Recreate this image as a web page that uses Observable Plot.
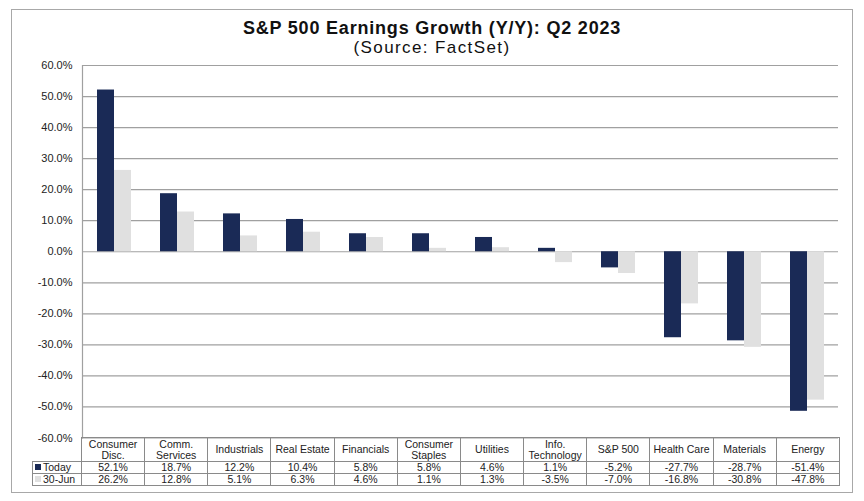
<!DOCTYPE html>
<html><head><meta charset="utf-8">
<script src="https://cdn.jsdelivr.net/npm/d3@7"></script>
<script src="https://cdn.jsdelivr.net/npm/@observablehq/plot@0.6"></script>
<style>
body{margin:0;background:#fff;font-family:Arial,"Liberation Sans",sans-serif;}
#wrap{position:relative;width:864px;height:501px;overflow:hidden;background:#fff;}
#chart{position:absolute;left:0;top:0;}
#box{position:absolute;left:11px;top:9px;width:842px;height:484px;border:1.5px solid #a8a8a8;box-sizing:border-box;}
#title{position:absolute;left:12px;width:840px;top:18px;text-align:center;font-weight:bold;font-size:18px;letter-spacing:0.8px;color:#111;}
#subtitle{position:absolute;left:12px;width:840px;top:38px;text-align:center;font-size:17px;letter-spacing:1.4px;color:#111;}
#tbl{position:absolute;left:32px;top:437px;border-collapse:collapse;table-layout:fixed;font-size:10.5px;color:#222;width:807px;}
#tbl td{border:1px solid #8a8a8a;text-align:center;padding:0;line-height:10.5px;white-space:nowrap;overflow:hidden;}
#tbl tr.hdr td{height:23px;}
#tbl tr.val td{height:11px;}
#tbl td.lab{text-align:left;padding-left:2px;}
.key{display:inline-block;width:6px;height:6px;margin-right:2px;vertical-align:1px;}
</style>
</head><body>
<div id="wrap">
  <div id="chart"></div>
  <div id="box"></div>
  <div id="title"></div>
  <div id="subtitle"></div>
  <table id="tbl"></table>
</div>
<script>
const titleText = "S&P 500 Earnings Growth (Y/Y): Q2 2023";
const subtitleText = "(Source: FactSet)";
const categories = ["Consumer\nDisc.", "Comm.\nServices", "Industrials", "Real Estate", "Financials", "Consumer\nStaples", "Utilities", "Info.\nTechnology", "S&P 500", "Health Care", "Materials", "Energy"];
const seriesNames = ["Today", "30-Jun"];
const today = [52.1, 18.7, 12.2, 10.4, 5.8, 5.8, 4.6, 1.1, -5.2, -27.7, -28.7, -51.4];
const jun30 = [26.2, 12.8, 5.1, 6.3, 4.6, 1.1, 1.3, -3.5, -7.0, -16.8, -30.8, -47.8];
const seriesColors = ["#1a2a56", "#e0e0e0"];
const yTicks = [-60, -50, -40, -30, -20, -10, 0, 10, 20, 30, 40, 50, 60];

document.getElementById("title").textContent = titleText;
document.getElementById("subtitle").textContent = subtitleText;

const seriesValues = [today, jun30];
const data = categories.flatMap((c, i) => seriesNames.map((s, k) => ({cat: c, series: s, value: seriesValues[k][i]})));

const chart = Plot.plot({
  width: 864, height: 452,
  marginLeft: 81, marginRight: 25, marginTop: 65, marginBottom: 14.5,
  style: {background: "transparent", fontFamily: "Arial, 'Liberation Sans', sans-serif", fontSize: "11px", color: "#222"},
  fx: {domain: categories, padding: 0, axis: null},
  x: {domain: seriesNames, paddingInner: 0, paddingOuter: 0.755, axis: null},
  y: {domain: [-60, 60], ticks: yTicks, tickFormat: d => d.toFixed(1) + "%", tickSize: 0, tickPadding: 10, label: null},
  color: {domain: seriesNames, range: seriesColors},
  marks: [
    Plot.gridY(yTicks, {stroke: "#a0a0a0", strokeOpacity: 1, strokeWidth: 1.2}),
    Plot.frame({anchor: "left", facet: "super", stroke: "#a0a0a0", strokeWidth: 1.2}),
    Plot.barY(data, {fx: "cat", x: "series", y: "value", fill: "series"})
  ]
});
document.getElementById("chart").appendChild(chart);

// data table below the chart
const tbl = document.getElementById("tbl");
const cg = document.createElement("colgroup");
const c0 = document.createElement("col"); c0.style.width = "49px"; cg.appendChild(c0);
categories.forEach(() => { const c = document.createElement("col"); c.style.width = (758 / categories.length) + "px"; cg.appendChild(c); });
tbl.appendChild(cg);
const hr = document.createElement("tr"); hr.className = "hdr";
const h0 = document.createElement("td"); h0.style.borderLeft = "none"; h0.style.borderTop = "none"; hr.appendChild(h0);
categories.forEach(c => {
  const td = document.createElement("td");
  c.split("\n").forEach((line, i) => { if (i) td.appendChild(document.createElement("br")); td.appendChild(document.createTextNode(line)); });
  hr.appendChild(td);
});
tbl.appendChild(hr);
seriesNames.forEach((s, k) => {
  const tr = document.createElement("tr"); tr.className = "val";
  const lab = document.createElement("td"); lab.className = "lab";
  const key = document.createElement("span"); key.className = "key"; key.style.background = seriesColors[k];
  lab.appendChild(key); lab.appendChild(document.createTextNode(s));
  tr.appendChild(lab);
  seriesValues[k].forEach(v => { const td = document.createElement("td"); td.textContent = v.toFixed(1) + "%"; tr.appendChild(td); });
  tbl.appendChild(tr);
});
</script>
</body></html>
